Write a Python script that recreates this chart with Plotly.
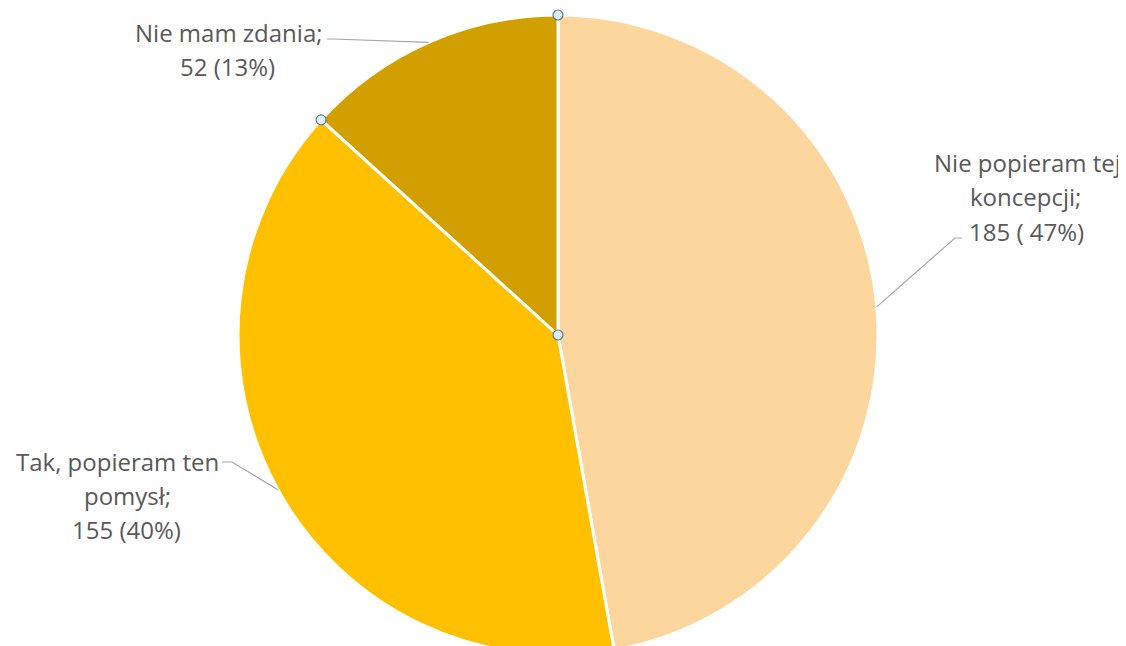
import math
import plotly.graph_objects as go

# ---- data ----
labels = ["Nie popieram tej koncepcji", "Tak, popieram ten pomysł", "Nie mam zdania"]
values = [185, 155, 52]
colors = ["#FDD69E", "#FFC000", "#D19F00"]
label_lines = [
    ["Nie popieram tej", "koncepcji;", "185 ( 47%)"],
    ["Tak, popieram ten", "pomysł;", "155 (40%)"],
    ["Nie mam zdania;", "52 (13%)"],
]

# ---- layout geometry ----
OFF = 8                         # page body margin (screen px = figure px + OFF)
SCX, SCY, R = 558, 335, 320     # pie centre (screen px) and radius
W = 1126
ML, MR, MB = 0, 0, 0
MT = (SCY - OFF) - R
PH = 2 * R
H = MT + PH + MB
PW = W - ML - MR
CX, CY = SCX - OFF, SCY - OFF   # figure px


def xp(sx):
    return (sx - OFF - ML) / PW


def yp(sy):
    return (H - MB - (sy - OFF)) / PH


def edge(angle_deg, r=R):
    a = math.radians(angle_deg)
    return SCX + r * math.sin(a), SCY - r * math.cos(a)


# label placement (screen px): line centres and leader line start/knee
label_pos = [
    {"xs": [1027, 1025, 1026], "ys": [162, 196, 231], "start": [(962, 238), (955, 238)]},
    {"xs": [117, 127, 126], "ys": [461, 495, 529], "start": [(222, 462), (232, 462)]},
    {"xs": [229, 227], "ys": [32, 66], "start": [(327, 39), (333, 39)]},
]

dom_half = 0.3
cxp = (CX - ML) / PW
fig = go.Figure(go.Pie(
    labels=labels,
    values=values,
    sort=False,
    direction="clockwise",
    rotation=0,
    textinfo="none",
    hoverinfo="label+value+percent",
    marker=dict(colors=colors, line=dict(color="#FFFFFF", width=3)),
    domain=dict(x=[cxp - dom_half, cxp + dom_half], y=[0, 1]),
    showlegend=False,
))

total = sum(values)
annotations = []
shapes = []
cum = 0.0
boundaries = []
for i, v in enumerate(values):
    start_ang = cum / total * 360
    cum += v
    end_ang = cum / total * 360
    boundaries.append(start_ang)
    mid = (start_ang + end_ang) / 2
    ex, ey = edge(mid)
    pos = label_pos[i]
    for line, x, y in zip(label_lines[i], pos["xs"], pos["ys"]):
        annotations.append(dict(
            x=xp(x), y=yp(y), xref="paper", yref="paper",
            text=line, showarrow=False, xanchor="center", yanchor="middle",
            font=dict(family="Open Sans", size=24, color="#595959"),
        ))
    (sx, sy), (kx, ky) = pos["start"]
    path = f"M {xp(sx)} {yp(sy)} L {xp(kx)} {yp(ky)} L {xp(ex)} {yp(ey)}"
    shapes.append(dict(type="path", path=path, xref="paper", yref="paper",
                       line=dict(color="#A6A6A6", width=1.2)))

# selection handles of the "Nie mam zdania" slice
hr = 5
handle_pts = [(SCX, SCY), edge(0), edge(boundaries[-1])]
for hx, hy in handle_pts:
    shapes.append(dict(type="circle", xref="paper", yref="paper",
                       x0=xp(hx - hr), x1=xp(hx + hr), y0=yp(hy + hr), y1=yp(hy - hr),
                       fillcolor="#DCEFF9", line=dict(color="#5F7A8A", width=1.2)))

fig.update_layout(
    width=W, height=H, autosize=False,
    margin=dict(l=ML, r=MR, t=MT, b=MB),
    paper_bgcolor="white", plot_bgcolor="white",
    annotations=annotations, shapes=shapes,
)

fig.write_html("out.html")
